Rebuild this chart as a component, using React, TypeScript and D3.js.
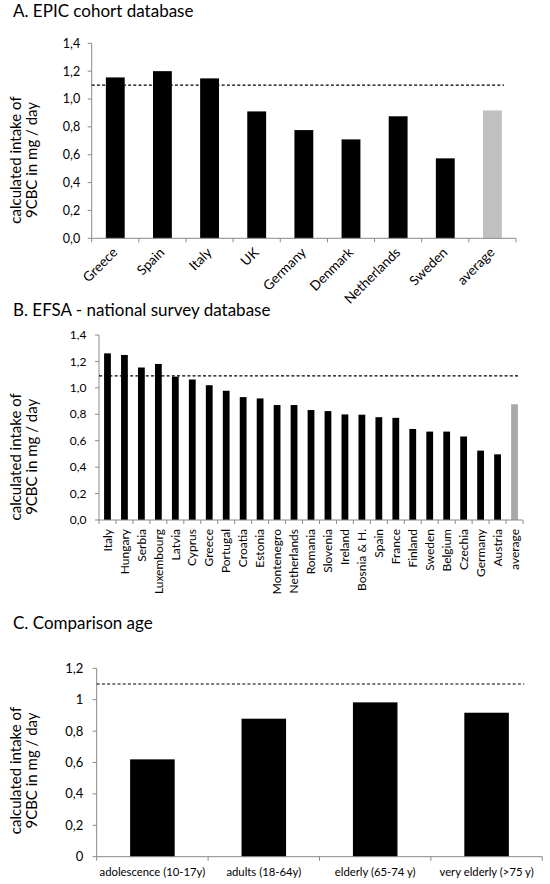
import React from "react";
import * as d3 from "d3";

// ---------- data ----------
const epicCountries = ["Greece", "Spain", "Italy", "UK", "Germany", "Denmark", "Netherlands", "Sweden", "average"];
const epicValues = [1.155, 1.2, 1.148, 0.911, 0.777, 0.71, 0.876, 0.574, 0.918];

const efsaCountries = [
  "Italy", "Hungary", "Serbia", "Luxembourg", "Latvia", "Cyprus", "Greece", "Portugal", "Croatia", "Estonia",
  "Montenegro", "Netherlands", "Romania", "Slovenia", "Ireland", "Bosnia & H.", "Spain", "France", "Finland",
  "Sweden", "Belgium", "Czechia", "Germany", "Austria", "average",
];
const efsaValues = [
  1.261, 1.249, 1.154, 1.181, 1.085, 1.063, 1.02, 0.978, 0.93, 0.92,
  0.87, 0.87, 0.832, 0.824, 0.799, 0.797, 0.778, 0.773, 0.689,
  0.669, 0.669, 0.632, 0.525, 0.497, 0.876,
];

const ageGroups = ["adolescence (10-17y)", "adults (18-64y)", "elderly (65-74 y)", "very elderly (>75 y)"];
const ageValues = [0.62, 0.879, 0.983, 0.917];

const panelTitles = ["A. EPIC cohort database", "B. EFSA - national survey database", "C. Comparison age"];
const yAxisTitleLines = ["calculated intake of", "9CBC in mg / day"];
const referenceLevels = [1.1, 1.09, 1.1];
const yMaxima = [1.4, 1.4, 1.2];
const tickStep = 0.2;

const FONT = "Lato, 'Open Sans', sans-serif";
const AXIS = "#898989";

type Layout = {
  x0: number; x1: number; yTop: number; yBot: number;
  titleY: number; yTitleCenter: number;
  tickGap: number; tickFont: number;
  labelMode: "diag" | "vert" | "flat"; labelFont: number;
  refInset: number; avgColor: string;
  fmt: (v: number) => string;
};

const fmtFixed = (v: number) => d3.format(".1f")(v).replace(".", ",");
const fmtTrim = (v: number) => d3.format(".1~f")(v).replace(".", ",");

function Panel({ title, cats, vals, ymax, refLevel, L }: {
  title: string; cats: string[]; vals: number[]; ymax: number; refLevel: number; L: Layout;
}) {
  const x = d3.scaleBand<string>().domain(cats).range([L.x0, L.x1]).paddingInner(0.6).paddingOuter(0.3);
  const y = d3.scaleLinear().domain([0, ymax]).range([L.yBot, L.yTop]);
  const ticks = d3.range(0, ymax + 1e-9, tickStep);
  const step = x.step();
  const boundaries = d3.range(cats.length + 1).map((i) => L.x0 + i * step);
  const last = cats.length - 1;

  return (
    <g>
      <text x={13} y={L.titleY} fontSize={17} fontFamily={FONT} fill="#000">{title}</text>
      {/* y axis title */}
      <g transform={`translate(0,${L.yTitleCenter})`} fontFamily={FONT} fontSize={15} fill="#000">
        <text transform="translate(20.5,0) rotate(-90)" textAnchor="middle">{yAxisTitleLines[0]}</text>
        <text transform="translate(36.5,0) rotate(-90)" textAnchor="middle">{yAxisTitleLines[1]}</text>
      </g>
      {/* bars */}
      {cats.map((c, i) => (
        <rect key={c + i} x={x(c)} y={y(vals[i])} width={x.bandwidth()} height={L.yBot - y(vals[i])}
          fill={i === last && c === "average" ? L.avgColor : "#000"} />
      ))}
      {/* y axis */}
      <line x1={L.x0} x2={L.x0} y1={L.yTop} y2={L.yBot} stroke={AXIS} strokeWidth={1} />
      {ticks.map((t) => (
        <g key={t}>
          <line x1={L.x0 - 4} x2={L.x0} y1={y(t)} y2={y(t)} stroke={AXIS} strokeWidth={1} />
          <text x={L.x0 - L.tickGap} y={y(t)} dy="0.35em" textAnchor="end" fontFamily={FONT}
            fontSize={L.tickFont} fill="#000">{L.fmt(t)}</text>
        </g>
      ))}
      {/* x axis */}
      <line x1={L.x0} x2={L.x1} y1={L.yBot} y2={L.yBot} stroke={AXIS} strokeWidth={1} />
      {boundaries.map((bx, i) => (
        <line key={i} x1={bx} x2={bx} y1={L.yBot} y2={L.yBot + 4} stroke={AXIS} strokeWidth={1} />
      ))}
      {/* reference line */}
      <line x1={L.x0} x2={L.x1 - L.refInset} y1={y(refLevel)} y2={y(refLevel)} stroke="#000"
        strokeWidth={1.2} strokeDasharray="3,2.2" />
      {/* category labels */}
      {cats.map((c) => {
        const cx = (x(c) as number) + x.bandwidth() / 2;
        if (L.labelMode === "diag") {
          return (
            <text key={c} transform={`translate(${cx + 3},${L.yBot + 15}) rotate(-45)`} textAnchor="end"
              fontFamily={FONT} fontSize={L.labelFont} fill="#000">{c}</text>
          );
        }
        if (L.labelMode === "vert") {
          return (
            <text key={c} transform={`translate(${cx},${L.yBot + 9}) rotate(-90)`} dy="0.35em" textAnchor="end"
              fontFamily={FONT} fontSize={L.labelFont} fill="#000">{c}</text>
          );
        }
        return (
          <text key={c} x={cx} y={L.yBot + 19} textAnchor="middle" fontFamily={FONT}
            fontSize={L.labelFont} fill="#000">{c}</text>
        );
      })}
    </g>
  );
}

const layouts: Layout[] = [
  { x0: 91.7, x1: 516, yTop: 43.3, yBot: 238.3, titleY: 17, yTitleCenter: 160, tickGap: 11.5, tickFont: 12.5,
    labelMode: "diag", labelFont: 13.5, refInset: 12, avgColor: "#c0c0c0", fmt: fmtFixed },
  { x0: 99, x1: 523, yTop: 335, yBot: 520, titleY: 316, yTitleCenter: 456.8, tickGap: 12.5, tickFont: 12,
    labelMode: "vert", labelFont: 12, refInset: 5, avgColor: "#a9a9a9", fmt: fmtFixed },
  { x0: 96.7, x1: 542.3, yTop: 668.3, yBot: 856.7, titleY: 629, yTitleCenter: 770.5, tickGap: 13.5, tickFont: 13,
    labelMode: "flat", labelFont: 11.3, refInset: 18, avgColor: "#a9a9a9", fmt: fmtTrim },
];

export default function App() {
  const sets = [
    { cats: epicCountries, vals: epicValues },
    { cats: efsaCountries, vals: efsaValues },
    { cats: ageGroups, vals: ageValues },
  ];
  return (
    <svg width={550} height={884} viewBox="0 0 550 884"
      style={{ position: "absolute", left: 0, top: 0, background: "#fff" }}>
      <rect width={550} height={884} fill="#fff" />
      {sets.map((s, i) => (
        <Panel key={i} title={panelTitles[i]} cats={s.cats} vals={s.vals} ymax={yMaxima[i]}
          refLevel={referenceLevels[i]} L={layouts[i]} />
      ))}
    </svg>
  );
}
